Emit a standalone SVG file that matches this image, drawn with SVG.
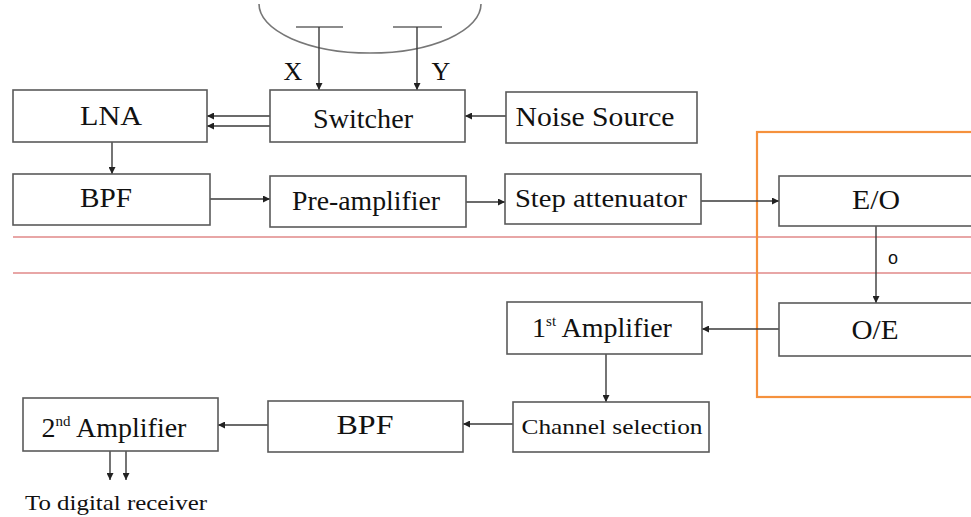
<svg xmlns="http://www.w3.org/2000/svg" width="971" height="517" viewBox="0 0 971 517" font-family="Liberation Serif, DejaVu Serif, serif">
  <style>
    .box { fill: #ffffff; stroke: #5a5a5a; stroke-width: 1.6; }
    .wire { fill: none; stroke: #3a3a3a; stroke-width: 1.4; }
    text { fill: #111; text-anchor: middle; }
    .lbl { font-size: 28px; }
    .mid { font-size: 25px; }
    .small { font-size: 22px; }
    .tag { font-size: 26px; }
    .sup { font-size: 15px; }
    .band { stroke: #e8a6a6; stroke-width: 2; }
    .frame { fill: none; stroke: #f5913d; stroke-width: 2.2; }
  </style>
  <defs>
    <marker id="arr" viewBox="0 0 10 10" refX="10" refY="5" markerWidth="7" markerHeight="7" markerUnits="userSpaceOnUse" orient="auto">
      <path d="M0,0 L10,5 L0,10 z" fill="#222"/>
    </marker>
  </defs>

  <!-- optical link bands -->
  <g id="bands">
    <line class="band" x1="13" y1="237" x2="971" y2="237"/>
    <line class="band" x1="13" y1="273" x2="971" y2="273"/>
  </g>

  <!-- E/O - O/E enclosure -->
  <rect id="optical-frame" class="frame" x="757" y="132" width="230" height="265"/>

  <!-- antenna dish with two feeds -->
  <g id="antenna">
    <path d="M259,4 A111,49 0 0 0 481,4" fill="none" stroke="#777" stroke-width="1.6"/>
    <line x1="296" y1="27" x2="343" y2="27" stroke="#666" stroke-width="1.6"/>
    <line x1="393" y1="27" x2="442" y2="27" stroke="#666" stroke-width="1.6"/>
    <text class="tag" x="293" y="80">X</text>
    <text class="tag" x="441" y="80">Y</text>
  </g>

  <g id="connectors">
    <line class="wire" x1="319" y1="27" x2="319" y2="90" marker-end="url(#arr)"/>
    <line class="wire" x1="417" y1="27" x2="417" y2="90" marker-end="url(#arr)"/>
    <line class="wire" x1="270" y1="116" x2="207" y2="116" marker-end="url(#arr)"/>
    <line class="wire" x1="270" y1="126" x2="207" y2="126" marker-end="url(#arr)"/>
    <line class="wire" x1="506" y1="116" x2="465" y2="116" marker-end="url(#arr)"/>
    <line class="wire" x1="112" y1="142" x2="112" y2="174" marker-end="url(#arr)"/>
    <line class="wire" x1="210" y1="199" x2="270" y2="199" marker-end="url(#arr)"/>
    <line class="wire" x1="466" y1="202" x2="505" y2="202" marker-end="url(#arr)"/>
    <line class="wire" x1="701" y1="201" x2="779" y2="201" marker-end="url(#arr)"/>
    <line class="wire" x1="876" y1="226" x2="876" y2="303" marker-end="url(#arr)"/>
    <line class="wire" x1="779" y1="329" x2="702" y2="329" marker-end="url(#arr)"/>
    <line class="wire" x1="606" y1="354" x2="606" y2="402" marker-end="url(#arr)"/>
    <line class="wire" x1="513" y1="424" x2="463" y2="424" marker-end="url(#arr)"/>
    <line class="wire" x1="268" y1="425" x2="218" y2="425" marker-end="url(#arr)"/>
    <line class="wire" x1="110" y1="451" x2="110" y2="480" marker-end="url(#arr)"/>
    <line class="wire" x1="126" y1="451" x2="126" y2="480" marker-end="url(#arr)"/>
  </g>
  <text x="893" y="264" font-family="Liberation Sans, Arial, sans-serif" font-size="18" fill="#444">o</text>

  <g id="lna">
    <rect class="box" x="13" y="90" width="194" height="52"/>
    <text class="lbl" x="111" y="125" textLength="62" lengthAdjust="spacingAndGlyphs">LNA</text>
  </g>
  <g id="switcher">
    <rect class="box" x="270" y="90" width="195" height="52"/>
    <text class="lbl" x="363" y="128" textLength="100" lengthAdjust="spacingAndGlyphs">Switcher</text>
  </g>
  <g id="noise-source">
    <rect class="box" x="506" y="92" width="191" height="51"/>
    <text class="lbl" x="595" y="126" textLength="159" lengthAdjust="spacingAndGlyphs">Noise Source</text>
  </g>
  <g id="bpf-rf">
    <rect class="box" x="13" y="174" width="197" height="51"/>
    <text class="lbl" x="106" y="207" textLength="52" lengthAdjust="spacingAndGlyphs">BPF</text>
  </g>
  <g id="pre-amplifier">
    <rect class="box" x="270" y="176" width="196" height="51"/>
    <text class="lbl" x="366" y="210" textLength="148" lengthAdjust="spacingAndGlyphs">Pre-amplifier</text>
  </g>
  <g id="step-attenuator">
    <rect class="box" x="505" y="174" width="196" height="50"/>
    <text class="mid" x="601" y="207" textLength="172" lengthAdjust="spacingAndGlyphs">Step attenuator</text>
  </g>
  <g id="eo">
    <rect class="box" x="779" y="176" width="200" height="50"/>
    <text class="lbl" x="876" y="209" textLength="48" lengthAdjust="spacingAndGlyphs">E/O</text>
  </g>
  <g id="oe">
    <rect class="box" x="779" y="303" width="200" height="53"/>
    <text class="lbl" x="875" y="339" textLength="47" lengthAdjust="spacingAndGlyphs">O/E</text>
  </g>
  <g id="first-amplifier">
    <rect class="box" x="507" y="302" width="195" height="52"/>
    <text class="lbl" x="602" y="337">1<tspan class="sup" dy="-11">st</tspan><tspan dy="11"> Amplifier</tspan></text>
  </g>
  <g id="channel-selection">
    <rect class="box" x="513" y="402" width="196" height="50"/>
    <text class="small" x="612" y="434" textLength="181" lengthAdjust="spacingAndGlyphs">Channel selection</text>
  </g>
  <g id="bpf-if">
    <rect class="box" x="268" y="401" width="195" height="51"/>
    <text class="lbl" x="365" y="434" textLength="57" lengthAdjust="spacingAndGlyphs">BPF</text>
  </g>
  <g id="second-amplifier">
    <rect class="box" x="23" y="398" width="195" height="53"/>
    <text class="lbl" x="114" y="437">2<tspan class="sup" dy="-11">nd</tspan><tspan dy="11"> Amplifier</tspan></text>
  </g>
  <text id="output-label" class="small" x="116" y="510" textLength="182" lengthAdjust="spacingAndGlyphs">To digital receiver</text>
</svg>
